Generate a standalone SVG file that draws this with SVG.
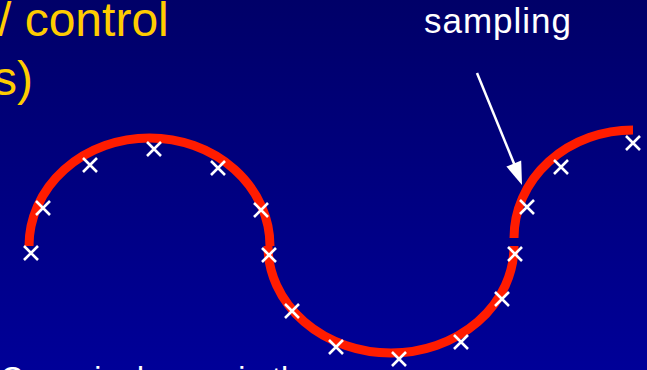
<svg xmlns="http://www.w3.org/2000/svg" xmlns:xlink="http://www.w3.org/1999/xlink" width="647" height="370" viewBox="0 0 647 370">
  <defs>
    <linearGradient id="bg" x1="0" y1="0" x2="0" y2="1">
      <stop offset="0" stop-color="#000068"/>
      <stop offset="1" stop-color="#000098"/>
    </linearGradient>
    <path id="xm" d="M-7 -7 L7 7 M-7 7 L7 -7"/>
    <style>
      .curve { fill: none; stroke: #FF1C00; stroke-width: 9; stroke-linecap: butt; }
      .mark { fill: none; stroke: #FFFFFF; stroke-width: 2.6; }
      .yellow { font-family: "Liberation Sans", Arial, sans-serif; font-size: 48px; fill: #FFCC00; }
      .white { font-family: "Liberation Sans", Arial, sans-serif; font-size: 35px; fill: #FFFFFF; }
      .small { font-size: 32px; }
      .arrow { stroke: #FFFFFF; stroke-width: 2.5; fill: none; }
    </style>
  </defs>
  <rect x="0" y="0" width="647" height="370" fill="url(#bg)"/>

  <g id="title-text">
    <text class="yellow" x="-2" y="36">/ control</text>
    <text class="yellow" x="-7" y="95">s)</text>
  </g>

  <g id="sampling-label">
    <text class="white" x="424" y="33" textLength="147" lengthAdjust="spacing">sampling</text>
  </g>

  <g id="curve">
    <path class="curve" d="M29 246 A120.5 108 0 0 1 270 246"/>
    <path class="curve" d="M268 246 A123 107 0 0 0 514 246"/>
    <path class="curve" d="M514 238 A119 108 0 0 1 633 130"/>
  </g>

  <g id="samples" class="mark">
    <use xlink:href="#xm" x="31" y="253"/>
    <use xlink:href="#xm" x="43" y="208"/>
    <use xlink:href="#xm" x="90" y="165"/>
    <use xlink:href="#xm" x="154" y="149"/>
    <use xlink:href="#xm" x="218" y="168"/>
    <use xlink:href="#xm" x="261" y="210"/>
    <use xlink:href="#xm" x="269" y="255"/>
    <use xlink:href="#xm" x="292" y="311"/>
    <use xlink:href="#xm" x="336" y="347"/>
    <use xlink:href="#xm" x="399" y="359"/>
    <use xlink:href="#xm" x="461" y="342"/>
    <use xlink:href="#xm" x="502" y="299"/>
    <use xlink:href="#xm" x="515" y="254"/>
    <use xlink:href="#xm" x="527" y="207"/>
    <use xlink:href="#xm" x="561" y="167"/>
    <use xlink:href="#xm" x="633" y="143"/>
  </g>

  <g id="connectors">
    <line class="arrow" x1="477" y1="73" x2="515" y2="166"/>
    <polygon points="522,185 506.4,166.6 521.2,160.6" fill="#FFFFFF"/>
  </g>

  <g id="bottom-text">
    <text class="white small" x="0" y="389">Curve is drawn via the</text>
  </g>
</svg>
